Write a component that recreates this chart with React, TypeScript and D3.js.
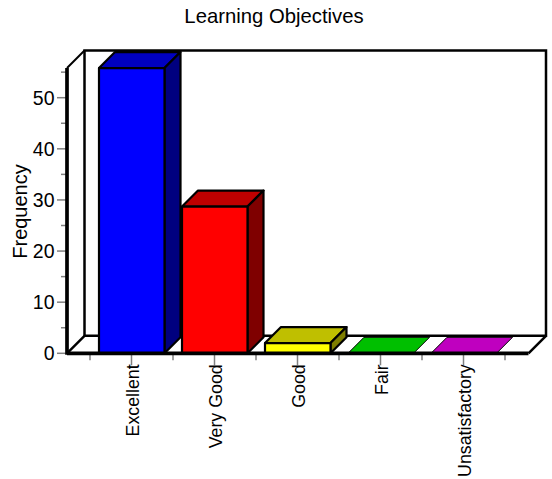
import React from "react";
import * as d3 from "d3";

const categories = ["Excellent", "Very Good", "Good", "Fair", "Unsatisfactory"];
const frequencies = [55.8, 28.7, 2, 0, 0];
const axisMax = 55.8;
const frontColors = ["#0000ff", "#ff0000", "#ffff00", "#00bf00", "#bf00bf"];
const topColors = ["#0000bf", "#bf0000", "#bfbf00", "#00bf00", "#bf00bf"];
const sideColors = ["#00007f", "#7f0000", "#7f7f00", "#007f00", "#7f007f"];
const yMajor = [0, 10, 20, 30, 40, 50];
const yMinor = [5, 15, 25, 35, 45, 55];

const FONT = "'Liberation Sans', Arial, sans-serif";

export default function App() {
  const y = d3.scaleLinear().domain([0, 50]).range([353.3, 97.7]);
  const band = d3.scaleLinear().domain([0, 5]).range([90, 505]);
  const dx = 17.5, dy = 17.5;
  const barDepth = 16;
  const xLeft = 67, xRight = 528.5, yBottom = y(0), yTop = y(axisMax);
  const barX = (i: number) => band(i) + 9;
  const barW = 65.5;
  const poly = (p: number[][]) => d3.line()(p as any)! + "Z";
  return (
    <svg width={552} height={479} style={{ position: "absolute", left: 0, top: 0, background: "#fff" }}>
      <text x={274} y={23} textAnchor="middle" fontFamily={FONT} fontSize={20.3}>Learning Objectives</text>

      {/* back wall and floor */}
      <path d={poly([[xLeft + dx, yTop - dy], [xRight + dx, yTop - dy], [xRight + dx, yBottom - dy], [xLeft + dx, yBottom - dy]])} fill="#fff" stroke="#000" strokeWidth={2.5} />
      <line x1={xLeft} y1={yTop} x2={xLeft + dx} y2={yTop - dy} stroke="#000" strokeWidth={2} />
      <line x1={xLeft} y1={yBottom} x2={xLeft + dx} y2={yBottom - dy} stroke="#000" strokeWidth={2.5} />
      <line x1={xRight} y1={yBottom} x2={xRight + dx} y2={yBottom - dy} stroke="#000" strokeWidth={2.5} />

      {/* ticks */}
      {yMajor.map((v) => (
        <g key={v}>
          <line x1={57} x2={xLeft} y1={y(v)} y2={y(v)} stroke="#808080" strokeWidth={1.5} />
          <text x={54.5} y={y(v) + 7} textAnchor="end" fontFamily={FONT} fontSize={19.5}>{v}</text>
        </g>
      ))}
      {yMinor.map((v) => (
        <line key={v} x1={61} x2={xLeft} y1={y(v)} y2={y(v)} stroke="#808080" strokeWidth={1.5} />
      ))}
      {d3.range(0, 6).map((i) => (
        <line key={i} x1={band(i)} x2={band(i)} y1={yBottom} y2={yBottom + 7} stroke="#808080" strokeWidth={1.5} />
      ))}
      {categories.map((c, i) => (
        <g key={c}>
          <line x1={band(i + 0.5)} x2={band(i + 0.5)} y1={yBottom} y2={yBottom + 12} stroke="#808080" strokeWidth={1.5} />
          <text transform={`translate(${band(i + 0.5) + 7},${yBottom + 11}) rotate(-90)`} textAnchor="end" fontFamily={FONT} fontSize={17.8}>{c}</text>
        </g>
      ))}

      {/* bars */}
      {frequencies.map((v, i) => {
        const x0 = barX(i), x1 = x0 + barW, yv = y(v);
        return (
          <g key={i} stroke="#000" strokeWidth={2.2} strokeLinejoin="round">
            <path d={poly([[x0, yv], [x1, yv], [x1 + barDepth, yv - barDepth], [x0 + barDepth, yv - barDepth]])} fill={topColors[i]} strokeWidth={v > 0 ? 2.2 : 1} />
            {v > 0 && <path d={poly([[x1, yv], [x1 + barDepth, yv - barDepth], [x1 + barDepth, yBottom - barDepth], [x1, yBottom]])} fill={sideColors[i]} />}
            {v > 0 && <rect x={x0} y={yv} width={barW} height={yBottom - yv} fill={frontColors[i]} />}
          </g>
        );
      })}

      {/* front axes */}
      <line x1={xLeft} x2={xLeft} y1={yTop} y2={yBottom + 1.5} stroke="#000" strokeWidth={3.7} />
      <line x1={xLeft} x2={xRight} y1={yBottom} y2={yBottom} stroke="#000" strokeWidth={3.7} />

      <text transform="translate(26.7,211.5) rotate(-90)" textAnchor="middle" fontFamily={FONT} fontSize={20}>Frequency</text>
    </svg>
  );
}
